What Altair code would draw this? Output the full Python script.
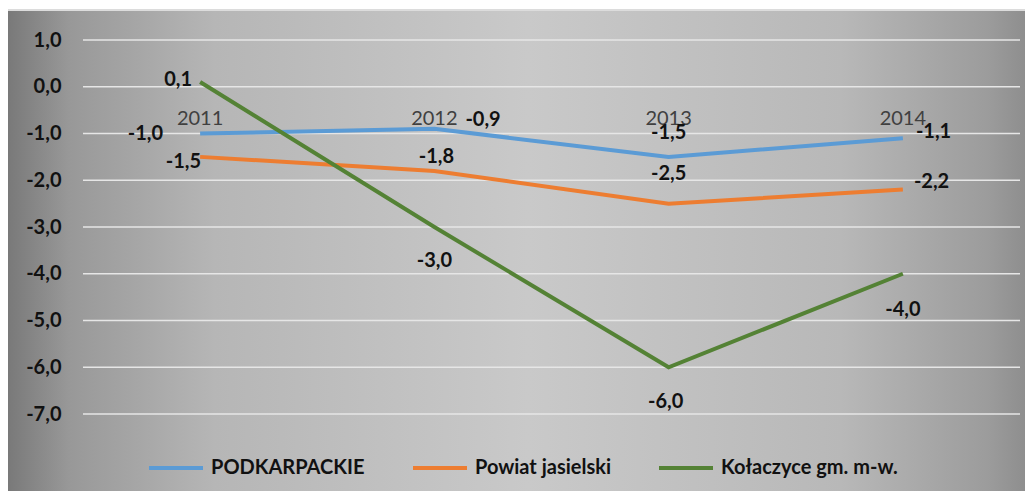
import altair as alt
import pandas as pd

years = ["2011", "2012", "2013", "2014"]
series_names = ["PODKARPACKIE", "Powiat jasielski", "Kołaczyce gm. m-w."]
podkarpackie = [-1.0, -0.9, -1.5, -1.1]
powiat = [-1.5, -1.8, -2.5, -2.2]
kolaczyce = [0.1, -3.0, -6.0, -4.0]
y_ticks = [1, 0, -1, -2, -3, -4, -5, -6, -7]

colors = ["#5B9BD5", "#ED7D31", "#548235"]

rows = []
for name, vals in zip(series_names, [podkarpackie, powiat, kolaczyce]):
    for yr, v in zip(years, vals):
        rows.append({"series": name, "year": yr, "value": v,
                     "label": f"{v:.1f}".replace(".", ",")})
df = pd.DataFrame(rows)

# label placement style: (align, dx, dy)
label_style = {
    ("PODKARPACKIE", "2011"): ("right", -37, 0),
    ("PODKARPACKIE", "2012"): ("left", 31, -9),
    ("PODKARPACKIE", "2013"): ("center", 0, -24),
    ("PODKARPACKIE", "2014"): ("left", 13, -6),
    ("Powiat jasielski", "2011"): ("right", 1, 5),
    ("Powiat jasielski", "2012"): ("center", 2, -14),
    ("Powiat jasielski", "2013"): ("center", 0, -30),
    ("Powiat jasielski", "2014"): ("left", 11, -8),
    ("Kołaczyce gm. m-w.", "2011"): ("right", -8, -2),
    ("Kołaczyce gm. m-w.", "2012"): ("center", 0, 34),
    ("Kołaczyce gm. m-w.", "2013"): ("center", -3, 35),
    ("Kołaczyce gm. m-w.", "2014"): ("center", 0, 36),
}

FONT = "Lato"
W, H = 937, 374

xscale = alt.Scale(type="point", domain=years, padding=0.5)
yscale = alt.Scale(domain=[-7, 1], nice=False)
yaxis = alt.Axis(values=y_ticks, grid=False, domain=False, ticks=False,
                 labelExpr="replace(replace(format(datum.value, '.1f'), '.', ','), '\u2212', '-')",
                 labelFont=FONT, labelFontWeight="bold", labelFontSize=20,
                 labelColor="#111111", labelPadding=22, zindex=1, title=None)

bg = alt.Chart(pd.DataFrame({"a": [0]})).mark_rect(
    fill={"gradient": "linear", "x1": 0, "y1": 0, "x2": 1, "y2": 0,
          "stops": [
              {"offset": 0.0, "color": "#787878"},
              {"offset": 0.06, "color": "#989898"},
              {"offset": 0.2, "color": "#b6b6b6"},
              {"offset": 0.5, "color": "#c9c9c9"},
              {"offset": 0.8, "color": "#b8b8b8"},
              {"offset": 0.94, "color": "#9c9c9c"},
              {"offset": 1.0, "color": "#858585"},
          ]},
    stroke="#dcdcdc", strokeWidth=2,
).encode(x=alt.value(-77), x2=alt.value(W + 30), y=alt.value(-30), y2=alt.value(H + 100))

grid = alt.Chart(pd.DataFrame({"t": y_ticks})).mark_rule(
    color="#e6e6e6", strokeWidth=1.5
).encode(y=alt.Y("t:Q", scale=yscale, axis=yaxis))

lines = alt.Chart(df).mark_line(strokeWidth=4).encode(
    x=alt.X("year:N", scale=xscale, axis=None),
    y=alt.Y("value:Q", scale=yscale, axis=yaxis),
    color=alt.Color("series:N", scale=alt.Scale(domain=series_names, range=colors),
                    legend=alt.Legend(orient="none", direction="horizontal",
                                      legendX=64, legendY=399, title=None,
                                      symbolType="stroke", symbolSize=2916,
                                      symbolStrokeWidth=4, labelFont=FONT,
                                      labelFontWeight="bold", labelFontSize=20,
                                      labelColor="#111111", labelOffset=6,
                                      labelLimit=400, columnPadding=40)),
    order=alt.Order("year:N"),
)

year_labels = alt.Chart(pd.DataFrame({"year": years, "z": [0, 0, 0, 0]})).mark_text(
    font=FONT, fontSize=20, color="#404040", baseline="middle", dy=32
).encode(x=alt.X("year:N", scale=xscale, axis=None),
         y=alt.Y("z:Q", scale=yscale, axis=yaxis),
         text="year:N")

layers = [bg, grid, lines, year_labels]
for (s, yr), (align, dx, dy) in label_style.items():
    layers.append(
        alt.Chart(df).transform_filter(
            (alt.datum.series == s) & (alt.datum.year == yr)
        ).mark_text(font=FONT, fontWeight="bold", fontSize=20, color="#111111",
                    align=align, baseline="middle", dx=dx, dy=dy).encode(
            x=alt.X("year:N", scale=xscale, axis=None),
            y=alt.Y("value:Q", scale=yscale, axis=yaxis),
            text="label:N",
        )
    )

chart = alt.layer(*layers).properties(
    width=W, height=H,
    autosize=alt.AutoSizeParams(type="none"),
    padding={"left": 75, "top": 32, "right": 5, "bottom": 77},
).configure_view(stroke=None).configure(background="white")

chart.save("out.html", embed_options={"renderer": "svg", "actions": False})
